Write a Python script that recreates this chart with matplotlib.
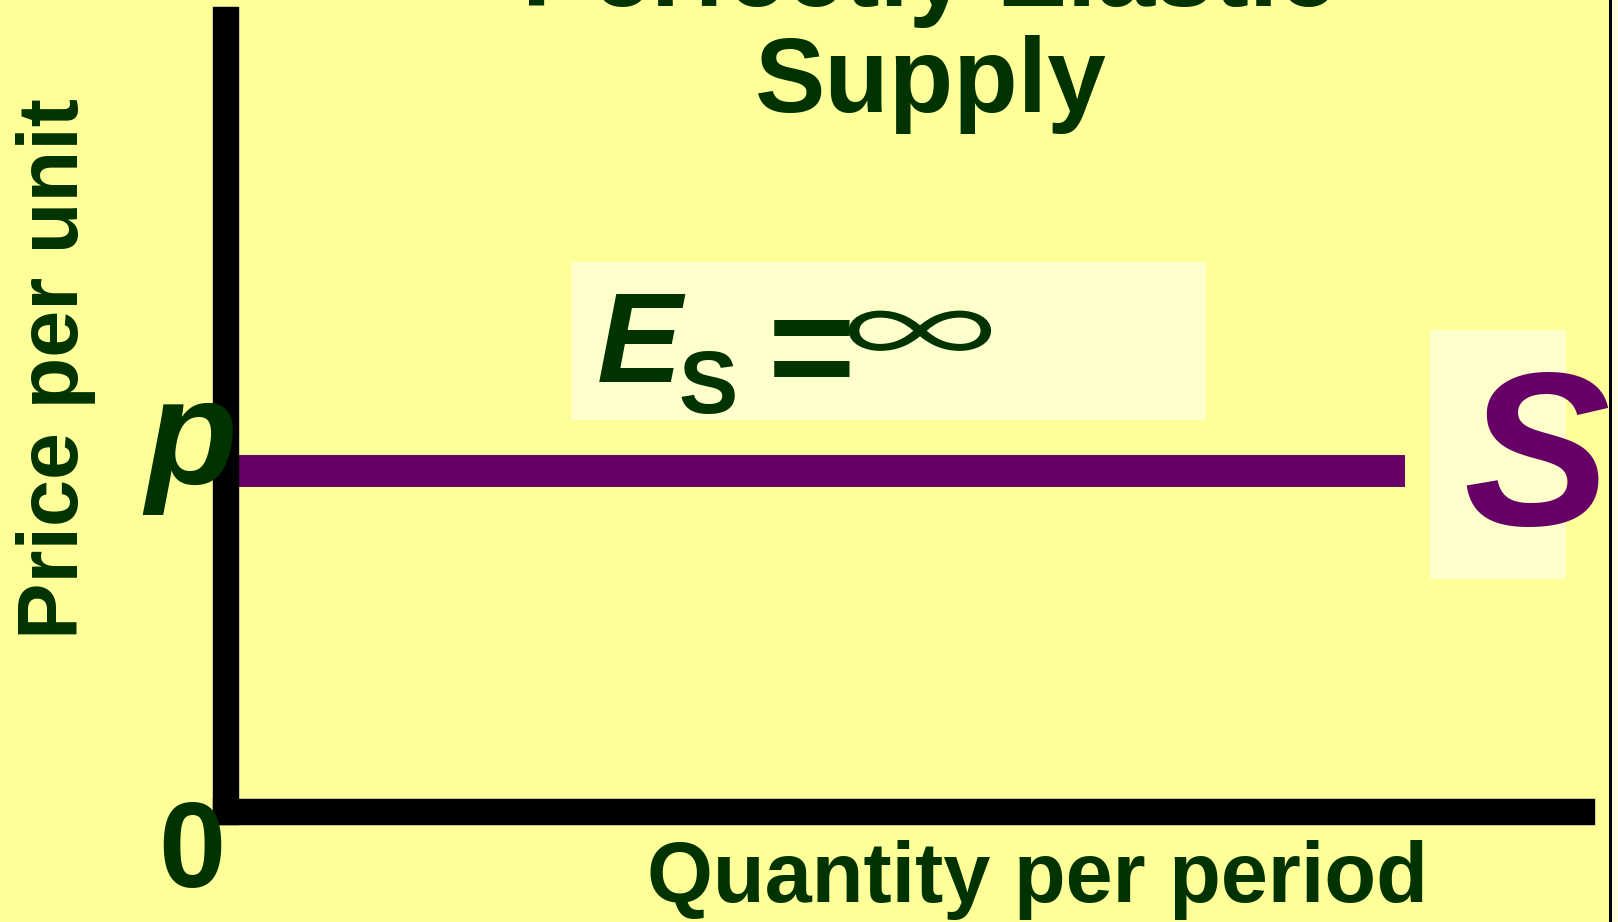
import matplotlib
matplotlib.use("Agg")
import matplotlib.pyplot as plt
from matplotlib import patheffects
from matplotlib.patches import Rectangle
from matplotlib.transforms import Affine2D, offset_copy

W, H = 1618, 922

# perfectly elastic supply: one price for every quantity
quantity = [0.0, 8.7]
price = [4.3, 4.3]
q_max = 10
p_max = 10

title_lines = ["Perfectly Elastic", "Supply"]
x_label = "Quantity per period"
y_label = "Price per unit"
price_label = "p"
origin_label = "0"
curve_label = "S"

BG = "#FFFF99"
BOX = "#FFFFCC"
GREEN = "#003300"
PURPLE = "#660066"

plt.rcParams["font.family"] = ["Liberation Sans", "DejaVu Sans"]


def fx(px):
    return px / W


def fy(py):
    return 1 - py / H


class Squash(patheffects.AbstractPathEffect):
    """Flatten a glyph vertically about a given height (in pixels)."""

    def __init__(self, cy, sy):
        super().__init__()
        self._squash = Affine2D().translate(0, -cy).scale(1, sy).translate(0, cy)

    def draw_path(self, renderer, gc, tpath, affine, rgbFace=None):
        renderer.draw_path(gc, tpath, affine + self._squash, rgbFace)


fig = plt.figure(figsize=(W / 100, H / 100), dpi=100, facecolor=BG)

# slide edge on the right
fig.patches.append(Rectangle((fx(1612), 0), fx(W) - fx(1612), 1, transform=fig.transFigure,
                             facecolor="#FFFFDD", edgecolor="none", zorder=-2))
fig.patches.append(Rectangle((fx(1609), 0), fx(1612) - fx(1609), 1, transform=fig.transFigure,
                             facecolor="black", edgecolor="none", zorder=-2))

# pale boxes behind the elasticity note and the curve name
fig.patches.append(Rectangle((fx(571), fy(420)), fx(1206) - fx(571), fy(262) - fy(420),
                             transform=fig.transFigure, facecolor=BOX, edgecolor="none", zorder=-1))
fig.patches.append(Rectangle((fx(1430), fy(579)), fx(1566) - fx(1430), fy(330) - fy(579),
                             transform=fig.transFigure, facecolor=BOX, edgecolor="none", zorder=-1))

ax = fig.add_axes([fx(226), fy(811.5), fx(1581.5) - fx(226), fy(20) - fy(811.5)])
ax.set_facecolor("none")
ax.set_xlim(0, q_max)
ax.set_ylim(0, p_max)
for side in ["top", "right"]:
    ax.spines[side].set_visible(False)
for side in ["left", "bottom"]:
    ax.spines[side].set_linewidth(19)
    ax.spines[side].set_color("black")
ax.set_xticks([])
ax.set_yticks([])

ax.plot(quantity, price, color=PURPLE, lw=23, solid_capstyle="butt", zorder=2)

# price mark on the vertical axis
ax.text(-0.026, price[0], price_label,
        transform=offset_copy(ax.get_yaxis_transform(), fig=fig, y=-13, units="dots"),
        ha="center", va="baseline", fontsize=108, fontweight="bold", fontstyle="italic",
        color=GREEN, zorder=5)

# curve name past the end of the line
ax.text(quantity[-1], price[-1], curve_label,
        transform=offset_copy(ax.transData, fig=fig, x=131, y=-54, units="dots"),
        ha="center", va="baseline", fontsize=158, fontweight="bold", fontstyle="italic",
        color=PURPLE, zorder=5)

# title, only partly on the slide
fig.text(fx(929), fy(6), title_lines[0], ha="center", va="baseline",
         fontsize=76, fontweight="bold", color=GREEN)
fig.text(fx(931), fy(112), title_lines[1], ha="center", va="baseline",
         fontsize=76, fontweight="bold", color=GREEN)

fig.text(fx(78), fy(369), y_label, rotation=90, rotation_mode="anchor",
         ha="center", va="baseline", fontsize=61, fontweight="bold", color=GREEN)
fig.text(fx(1037), fy(902), x_label, ha="center", va="baseline",
         fontsize=61, fontweight="bold", color=GREEN)
fig.text(fx(192), fy(887), origin_label, ha="center", va="baseline",
         fontsize=87, fontweight="bold", color=GREEN)

# E_s = infinity
fig.text(fx(597), fy(382), "E", ha="left", va="baseline",
         fontsize=92, fontweight="bold", fontstyle="italic", color=GREEN)
fig.text(fx(678), fy(413), "S", ha="left", va="baseline",
         fontsize=64, fontweight="bold", color=GREEN)
fig.text(fx(812), fy(398), "=", ha="center", va="baseline",
         fontsize=108, fontweight="bold", color=GREEN)
fig.text(fx(920), fy(388), "\u221e", ha="center", va="baseline",
         fontsize=110, family=["Noto Sans CJK JP", "DejaVu Sans"], color=GREEN,
         path_effects=[Squash(H - 331, 0.66)])

fig.savefig("out.png", dpi=100, facecolor=BG)
